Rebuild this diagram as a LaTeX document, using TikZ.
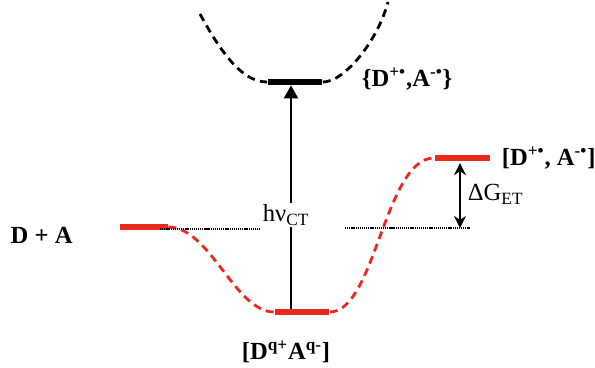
\documentclass[tikz,border=0pt]{standalone}
\usepackage{fontspec}
\setmainfont{Liberation Serif}
\usetikzlibrary{arrows.meta,positioning}
\definecolor{lvlred}{RGB}{235,40,30}
\tikzset{
  lvl/.style={rectangle, fill=lvlred, inner sep=0pt, minimum width=1.1cm, minimum height=1.2mm},
  lvlct/.style={lvl, fill=black},
  surf/.style={draw=lvlred, line width=1.6pt, dash pattern=on 4.5pt off 3pt},
  surfct/.style={surf, draw=black},
  ref/.style={draw=black, line width=0.9pt, dash pattern=on 0.7pt off 0.5pt},
  arr/.style={-{Triangle[length=2.6mm,width=2.8mm]}, draw=black, line width=1.1pt},
  darr/.style={{Stealth[length=2.4mm,width=2.4mm]}-{Stealth[length=2.4mm,width=2.4mm]}, draw=black, line width=1.3pt},
  lbl/.style={font=\fontsize{14}{16}\selectfont\bfseries, inner sep=1pt},
  txt/.style={font=\fontsize{14}{16}\selectfont, inner sep=1pt},
}

\begin{document}
\begin{tikzpicture}[x=0.02cm, y=-0.02cm]
\useasboundingbox (0,0) rectangle (595,368);
% energy levels
\node[lvl, minimum width=0.96cm] (da) at (144,227) {};
\node[lvl] (lo) at (302,312) {};
\node[lvl] (ct) at (462,158) {};
\node[lvlct] (ts) at (295,82) {};
\coordinate (tl) at (200,14);
\coordinate (tr) at (388,2);
\coordinate (vx) at (291,0);
\coordinate (gx) at (460,0);
\coordinate (dl1) at (160,229);
\coordinate (dl2) at (261,229);
\coordinate (dr1) at (345,228);
\coordinate (dr2) at (470,228);
% surfaces
\draw[surf] (da.east) .. controls (210,227) and (235,312) .. (lo.west);
\draw[surf] (lo.east) .. controls (375,312) and (385,158) .. (ct.west);
\draw[surfct] (tl) .. controls (225,60) and (245,82) .. (ts.west);
\draw[surfct] (ts.east) .. controls (345,82) and (378,40) .. (tr);
\draw[ref] (dl1) -- (dl2);
\draw[ref] (dr1) -- (dr2);
% transitions
\draw[arr] (lo.north -| vx) -- node[txt, fill=white, pos=0.42, xshift=-1mm] (hv) {hν\textsubscript{CT}} (ts.south -| vx);
\draw[darr, shorten <=1pt] (ct.south -| gx) -- node[txt, right=1mm] (dg) {ΔG\textsubscript{ET}} (dr2 -| gx);
% labels
\node[lbl, left=9mm of da, yshift=-1.6mm] (dalbl) {D + A};
\node[lbl, right=2mm of ct] (ctlbl) {[D\textsuperscript{+\textbullet}, A\textsuperscript{-\textbullet}]};
\node[lbl, below=4.6mm of lo, xshift=-3.2mm] (lolbl) {[D\textsuperscript{q+}A\textsuperscript{q-}]};
\node[lbl, right=7.4mm of ts, yshift=0.6mm] (tslbl) {\{D\textsuperscript{+\textbullet},A\textsuperscript{-\textbullet}\}};
\end{tikzpicture}
\end{document}
